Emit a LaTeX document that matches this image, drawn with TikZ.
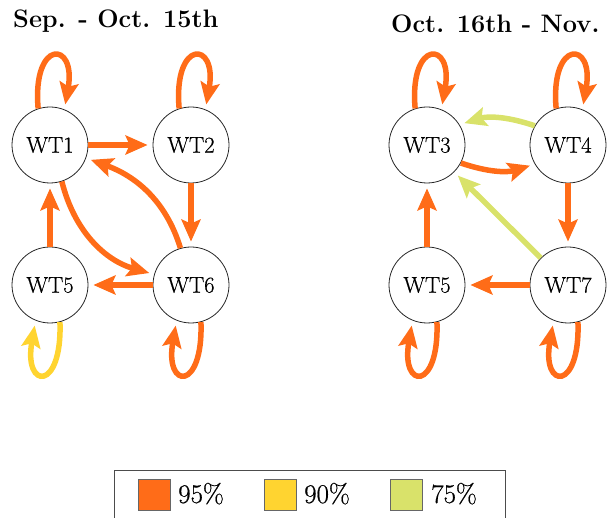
\documentclass[tikz,border=0pt]{standalone}
\usepackage{fontspec}
\newfontfamily\lblfont[FakeBold=0.6]{Latin Modern Roman}
\usetikzlibrary{arrows.meta}
\definecolor{eorange}{RGB}{255,108,24}
\definecolor{eyellow}{RGB}{255,212,48}
\definecolor{egreen}{RGB}{217,226,106}
\begin{document}
\begin{tikzpicture}[x=1pt,y=1pt,
  wt/.style={circle, draw=black!85, line width=0.8pt, minimum size=76pt, inner sep=0pt,
    font=\lblfont\fontsize{22.7pt}{26pt}\selectfont},
  edge/.style={line width=5.5pt, -{Stealth[length=22pt,width=19pt,inset=4pt]}, shorten >=5pt},
  ttl/.style={anchor=base west, inner sep=0pt, font=\fontsize{25.3pt}{30pt}\selectfont\bfseries},
  swatch/.style={draw=black!60, line width=0.8pt, minimum width=32pt, minimum height=31pt, inner sep=0pt},
  legtext/.style={anchor=base west, inner sep=0pt, font=\lblfont\fontsize{27pt}{32pt}\selectfont}]
\useasboundingbox (0,0) rectangle (612,518);
\clip (0,0) rectangle (612,518);

% titles
\node[ttl] (t1) at (13,490) {Sep. - Oct. 15th};
\node[ttl] (t2) at (391,485) {Oct. 16th - Nov.};

% left graph
\node[wt] (WT1) at (50,373) {WT1};
\node[wt] (WT2) at (191,373) {WT2};
\node[wt] (WT5a) at (50,233) {WT5};
\node[wt] (WT6) at (191,233) {WT6};

\draw[edge, eorange] (WT1.108) .. controls +(95:70) and +(80:70) .. (WT1.68);
\draw[edge, eorange] (WT2.108) .. controls +(95:70) and +(80:70) .. (WT2.68);
\draw[edge, eyellow] (WT5a.-75) .. controls +(-88:70) and +(-100:70) .. (WT5a.-112);
\draw[edge, eorange] (WT6.-75) .. controls +(-88:70) and +(-100:70) .. (WT6.-112);

\draw[edge, eorange] (WT1) -- (WT2);
\draw[edge, eorange] (WT2) -- (WT6);
\draw[edge, eorange] (WT6) -- (WT5a);
\draw[edge, eorange] (WT5a) -- (WT1);
\draw[edge, eorange] (WT6.106) to[out=107, in=-20] (WT1.-20);
\draw[edge, eorange] (WT1.-72) to[out=-76, in=164] (WT6.164);

% right graph
\node[wt] (WT3) at (427,373) {WT3};
\node[wt] (WT4) at (568,373) {WT4};
\node[wt] (WT5b) at (427,233) {WT5};
\node[wt] (WT7) at (568,233) {WT7};

\draw[edge, eorange] (WT3.108) .. controls +(95:70) and +(80:70) .. (WT3.68);
\draw[edge, eorange] (WT4.108) .. controls +(95:70) and +(80:70) .. (WT4.68);
\draw[edge, eorange] (WT5b.-75) .. controls +(-88:70) and +(-100:70) .. (WT5b.-112);
\draw[edge, eorange] (WT7.-75) .. controls +(-88:70) and +(-100:70) .. (WT7.-112);

\draw[edge, egreen] (WT4.150) to[bend right=18] (WT3.32);
\draw[edge, eorange] (WT3.-28) to[bend right=18] (WT4.-150);
\draw[edge, egreen] (WT7) -- (WT3);
\draw[edge, eorange] (WT4) -- (WT7);
\draw[edge, eorange] (WT7) -- (WT5b);
\draw[edge, eorange] (WT5b) -- (WT3);

% legend
\draw[draw=black!70, line width=0.9pt] (114,48) rectangle (505,-12);
\node[swatch, fill=eorange] (s1) at (154,23.5) {};
\node[legtext] (l1) at (178,15) {95\%};
\node[swatch, fill=eyellow] (s2) at (280,23.5) {};
\node[legtext] (l2) at (304,15) {90\%};
\node[swatch, fill=egreen] (s3) at (406.5,23.5) {};
\node[legtext] (l3) at (431,15) {75\%};
\end{tikzpicture}
\end{document}
